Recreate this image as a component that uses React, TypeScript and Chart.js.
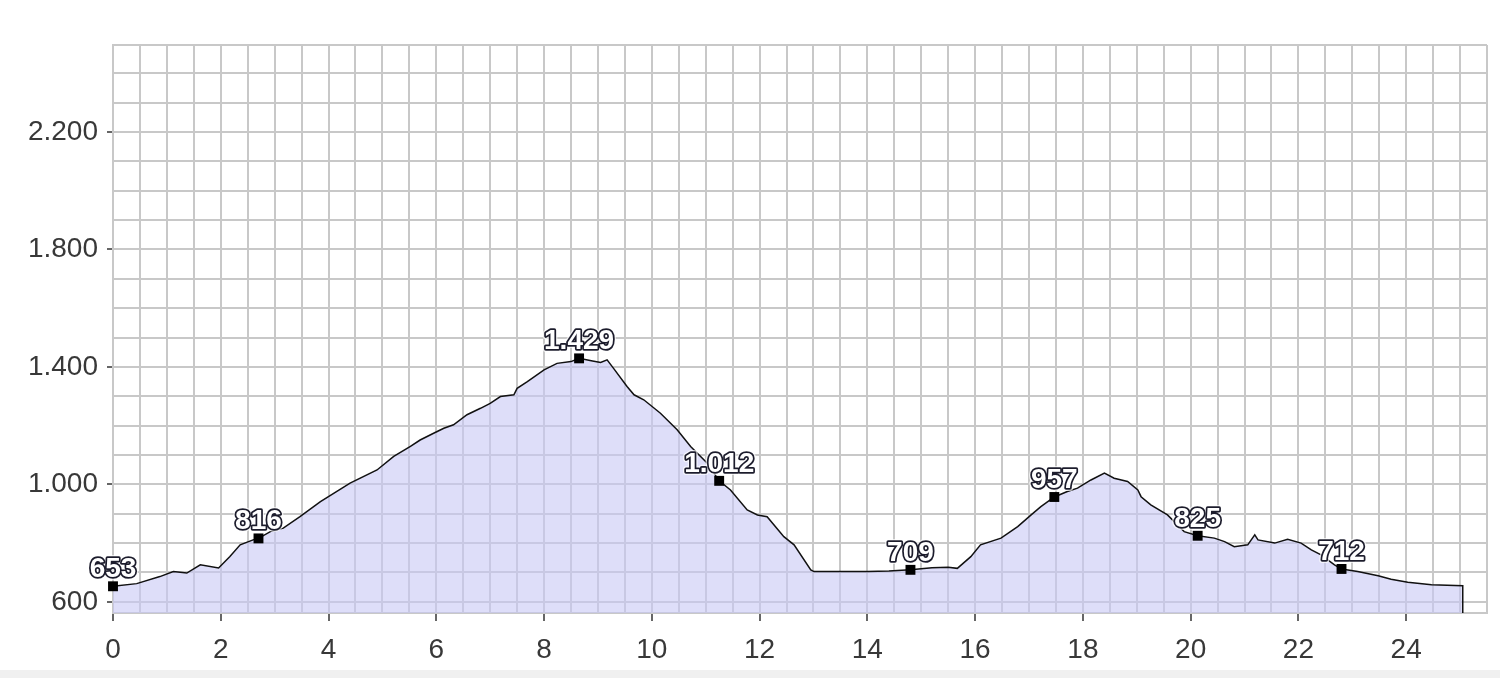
import React, { useEffect, useRef } from "react";
import { Chart, registerables } from "chart.js";

Chart.register(...registerables);

// Elevation profile: distance (km) and elevation (m)
const profileKm = [
  0.0, 0.44, 0.87, 1.12, 1.37, 1.62, 1.96, 2.17, 2.36, 2.6, 2.7, 2.92, 3.16, 3.47, 3.85,
  4.4, 4.9, 5.21, 5.52, 5.7, 5.95, 6.14, 6.32, 6.57, 6.82, 7.0, 7.19, 7.44, 7.5, 7.69,
  8.0, 8.24, 8.5, 8.65, 8.9, 9.05, 9.17, 9.29, 9.54, 9.67, 9.85, 10.16, 10.47, 10.72,
  11.03, 11.25, 11.46, 11.77, 11.96, 12.14, 12.45, 12.64, 12.95, 13.01, 14.0, 14.4, 14.8,
  15.2, 15.5, 15.67, 15.92, 16.1, 16.48, 16.79, 17.04, 17.22, 17.47, 17.7, 17.9, 18.15,
  18.4, 18.58, 18.83, 19.02, 19.08, 19.26, 19.57, 19.88, 20.13, 20.44, 20.63, 20.81,
  21.06, 21.19, 21.25, 21.56, 21.8, 22.05, 22.24, 22.42, 22.67, 22.8, 23.1, 23.48, 23.72,
  24.03, 24.47, 25.05, 25.05,
];
const profileElev = [
  653, 662, 686, 703, 698, 726, 715, 754, 794, 811, 816, 839, 851, 890, 941,
  1004, 1049, 1095, 1129, 1151, 1174, 1191, 1203, 1237, 1259, 1276, 1299, 1305, 1327, 1350,
  1390, 1412, 1418, 1429, 1420, 1415, 1424, 1395, 1333, 1305, 1288, 1242, 1186, 1129,
  1072, 1012, 981, 913, 896, 890, 822, 794, 709, 703, 703, 705, 709,
  716, 718, 714, 754, 794, 817, 856, 896, 924, 957, 975, 987, 1015,
  1038, 1021, 1010, 981, 958, 930, 896, 839, 825, 817, 805, 788,
  794, 828, 811, 800, 813, 800, 777, 760, 726, 712, 703, 689, 677,
  667, 658, 655, 562,
];

// Labelled waypoints
const markerKm = [0, 2.7, 8.65, 11.25, 14.8, 17.47, 20.13, 22.8];
const markerElev = [653, 816, 1429, 1012, 709, 957, 825, 712];

// Axes
const yMin = 562;
const yMax = 2496;
const yGridTicks = [yMin, 600, 700, 800, 900, 1000, 1100, 1200, 1300, 1400, 1500, 1600, 1700, 1800, 1900, 2000, 2100, 2200, 2300, 2400, yMax];
const yLabelTicks = [600, 1000, 1400, 1800, 2200];
const xMin = 0;
const xMax = 25.5;
const xStep = 0.5;
const xLabelTicks = [0, 2, 4, 6, 8, 10, 12, 14, 16, 18, 20, 22, 24];

const FONT = '"Liberation Sans", Arial, sans-serif';

function fmt(n: number): string {
  const s = String(Math.round(n));
  return s.replace(/\B(?=(\d{3})+(?!\d))/g, ".");
}

const labelPlugin = {
  id: "markerLabels",
  afterDatasetsDraw(chart: any) {
    const meta = chart.getDatasetMeta(1);
    const ctx = chart.ctx;
    ctx.save();
    ctx.font = `bold 28px ${FONT}`;
    ctx.textAlign = "center";
    ctx.textBaseline = "alphabetic";
    ctx.lineJoin = "round";
    meta.data.forEach((pt: any, i: number) => {
      const text = fmt(markerElev[i]);
      const x = pt.x;
      const y = pt.y - 9;
      ctx.lineWidth = 6;
      ctx.strokeStyle = "rgba(255,255,255,0.7)";
      ctx.strokeText(text, x, y);
      ctx.lineWidth = 3.5;
      ctx.strokeStyle = "#1c1c2c";
      ctx.strokeText(text, x, y);
      ctx.fillStyle = "#ffffff";
      ctx.fillText(text, x, y);
    });
    ctx.restore();
  },
};

export default function App() {
  const ref = useRef<HTMLCanvasElement | null>(null);

  useEffect(() => {
    if (!ref.current) return;
    const chart = new Chart(ref.current, {
      type: "line",
      data: {
        datasets: [
          {
            data: profileKm.map((x, i) => ({ x, y: profileElev[i] })),
            borderColor: "#111111",
            borderWidth: 1.5,
            backgroundColor: "rgba(200,200,245,0.6)",
            fill: "start",
            pointRadius: 0,
            tension: 0,
            order: 2,
          },
          {
            data: markerKm.map((x, i) => ({ x, y: markerElev[i] })),
            showLine: false,
            pointStyle: "rect",
            pointRadius: 7,
            pointBackgroundColor: "#000000",
            pointBorderColor: "#000000",
            pointBorderWidth: 0,
            clip: false,
            order: 1,
          },
        ],
      },
      options: {
        animation: false,
        responsive: true,
        maintainAspectRatio: false,
        layout: { padding: { top: 45, right: 13, left: 0, bottom: 0 } },
        plugins: {
          legend: { display: false },
          tooltip: { enabled: false },
        },
        scales: {
          x: {
            type: "linear",
            min: xMin,
            max: xMax,
            afterFit: (scale: any) => {
              scale.height = 57;
            },
            grid: {
              color: "#c8c8c8",
              lineWidth: 2,
              tickLength: 8,
              tickWidth: 1.5,
              tickColor: (c: any) =>
                c.tick && xLabelTicks.includes(c.tick.value) ? "#333333" : "rgba(0,0,0,0)",
            },
            border: { color: "#c8c8c8", width: 2 },
            ticks: {
              stepSize: xStep,
              autoSkip: false,
              maxRotation: 0,
              padding: 12,
              color: "#383838",
              font: { family: FONT, size: 28 },
              callback: (v: any) => (xLabelTicks.includes(Number(v)) ? String(v) : ""),
            },
          },
          y: {
            type: "linear",
            min: yMin,
            max: yMax,
            afterFit: (scale: any) => {
              scale.width = 113;
            },
            afterBuildTicks: (scale: any) => {
              scale.ticks = yGridTicks.map((v) => ({ value: v }));
            },
            grid: {
              color: "#c8c8c8",
              lineWidth: 2,
              tickLength: 6,
              tickWidth: 1.5,
              tickColor: (c: any) =>
                c.tick && yLabelTicks.includes(c.tick.value) ? "#333333" : "rgba(0,0,0,0)",
            },
            border: { color: "#c8c8c8", width: 2 },
            ticks: {
              autoSkip: false,
              padding: 9,
              color: "#383838",
              font: { family: FONT, size: 28 },
              callback: (v: any) => (yLabelTicks.includes(Number(v)) ? fmt(Number(v)) : ""),
            },
          },
        },
      },
      plugins: [labelPlugin],
    });
    return () => chart.destroy();
  }, []);

  return (
    <>
      <div style={{ position: "absolute", left: 0, top: 0, width: 1500, height: 670, background: "#ffffff" }}>
        <canvas ref={ref} />
      </div>
      <div style={{ position: "absolute", left: 0, top: 670, width: 1500, height: 8, background: "#f0f0f0" }} />
    </>
  );
}
